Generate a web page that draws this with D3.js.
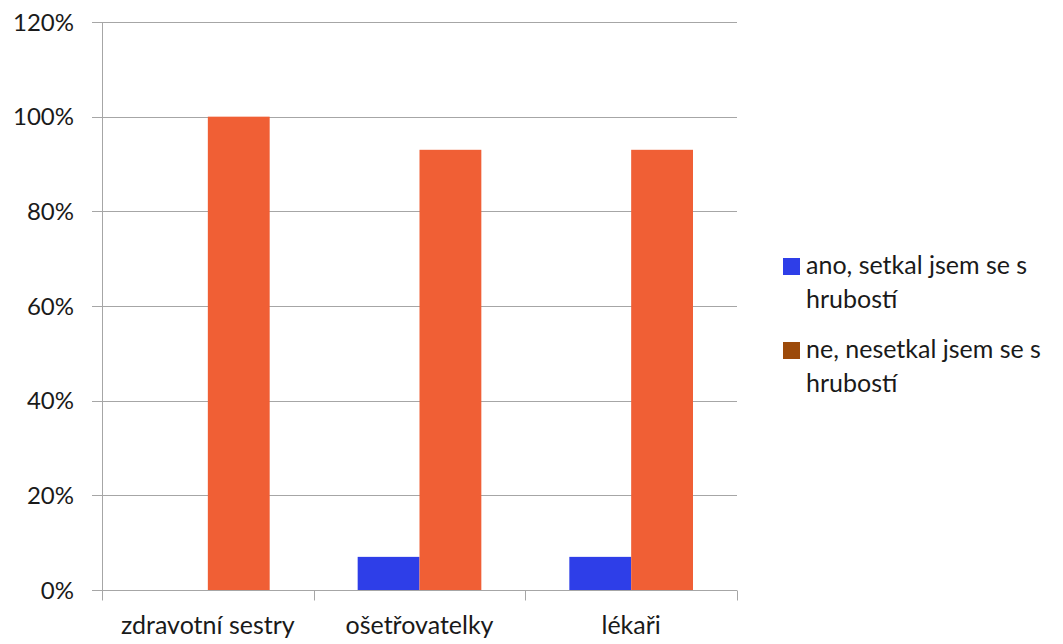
<!DOCTYPE html>
<html>
<head>
<meta charset="utf-8">
<script src="https://cdn.jsdelivr.net/npm/d3@7"></script>
<style>
  body { margin: 0; background: #fff; }
  text { font-family: Lato, "Open Sans", sans-serif; fill: #1a1a1a; }
</style>
</head>
<body>
<div id="chart"></div>
<script>
// data
let categories = ["zdravotní sestry", "ošetřovatelky", "lékaři"];
let seriesNames = ["ano, setkal jsem se s hrubostí", "ne, nesetkal jsem se s hrubostí"];
let anoValues = [0, 7, 7];
let neValues = [100, 93, 93];
let yTicks = [0, 20, 40, 60, 80, 100, 120];

let barColors = ["#2e3ee8", "#f05f35"];
let legendColors = ["#2e3ee8", "#9c4a0a"];

let width = 1063;
let height = 644;
let margin = {top: 22, bottom: 54, left: 102, right: 326};

let svg = d3.select("#chart")
    .append("svg")
    .attr("width", width)
    .attr("height", height);

let x = d3.scaleBand()
    .domain(categories)
    .range([margin.left, width - margin.right]);

let inner = d3.scaleBand()
    .domain([0, 1])
    .range([44, x.bandwidth() - 44]);

let y = d3.scaleLinear()
    .domain([0, 120])
    .range([height - margin.bottom, margin.top]);

// grid lines
svg.append("g")
    .selectAll("line")
    .data(yTicks)
    .join("line")
    .attr("x1", margin.left - 10)
    .attr("x2", width - margin.right)
    .attr("y1", d => Math.round(y(d)) + 0.5)
    .attr("y2", d => Math.round(y(d)) + 0.5)
    .attr("stroke", "#a6a6a6")
    .attr("stroke-width", 1);

// y axis labels
svg.append("g")
    .selectAll("text")
    .data(yTicks)
    .join("text")
    .attr("x", 74)
    .attr("y", d => y(d))
    .attr("dy", "0.36em")
    .attr("text-anchor", "end")
    .attr("font-size", "24px")
    .text(d => d + "%");

// y axis line
svg.append("line")
    .attr("x1", margin.left + 0.5)
    .attr("x2", margin.left + 0.5)
    .attr("y1", y(120))
    .attr("y2", y(0))
    .attr("stroke", "#a6a6a6");

// bars
let rows = categories.map((c, i) => ({cat: c, vals: [anoValues[i], neValues[i]]}));

svg.append("g")
    .selectAll("g")
    .data(rows)
    .join("g")
    .attr("transform", d => `translate(${x(d.cat)},0)`)
    .selectAll("rect")
    .data(d => d.vals.map((v, k) => ({k: k, v: v})))
    .join("rect")
    .attr("x", d => inner(d.k))
    .attr("y", d => y(d.v))
    .attr("width", inner.bandwidth())
    .attr("height", d => y(0) - y(d.v))
    .attr("fill", d => barColors[d.k]);

// x axis
let baseY = Math.round(y(0)) + 0.5;
svg.append("line")
    .attr("x1", margin.left)
    .attr("x2", width - margin.right)
    .attr("y1", baseY)
    .attr("y2", baseY)
    .attr("stroke", "#a6a6a6");

let bounds = categories.map(c => x(c)).concat([x(categories[categories.length - 1]) + x.bandwidth()]);
svg.append("g")
    .selectAll("line")
    .data(bounds)
    .join("line")
    .attr("x1", d => Math.round(d) + 0.5)
    .attr("x2", d => Math.round(d) + 0.5)
    .attr("y1", baseY)
    .attr("y2", baseY + 10)
    .attr("stroke", "#a6a6a6");

svg.append("g")
    .selectAll("text")
    .data(categories)
    .join("text")
    .attr("x", d => x(d) + x.bandwidth() / 2)
    .attr("y", 634)
    .attr("text-anchor", "middle")
    .attr("font-size", "25px")
    .text(d => d);

// legend
let legend = svg.append("g")
    .selectAll("g")
    .data(seriesNames)
    .join("g")
    .attr("transform", (d, i) => `translate(783,${258 + i * 84})`);

legend.append("rect")
    .attr("width", 17)
    .attr("height", 17)
    .attr("fill", (d, i) => legendColors[i]);

legend.each(function(d) {
    let parts = d.split(" s ");
    let t = d3.select(this).append("text")
        .attr("x", 23)
        .attr("font-size", "25px");
    t.append("tspan").attr("x", 23).attr("y", 16).text(parts[0] + " s");
    t.append("tspan").attr("x", 23).attr("y", 50).text(parts[1]);
});
</script>
</body>
</html>
